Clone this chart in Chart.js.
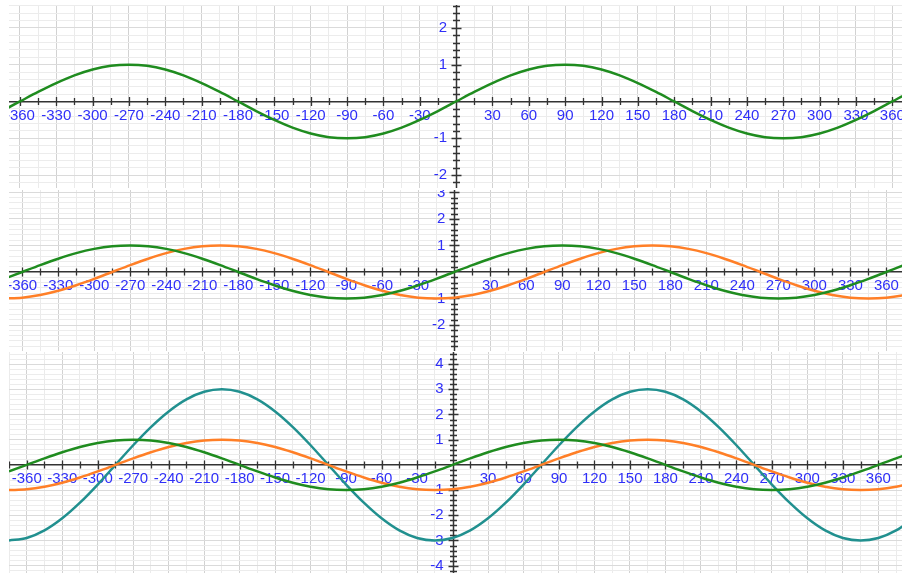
<!DOCTYPE html>
<html>
<head>
<meta charset="utf-8">
<script src="https://cdn.jsdelivr.net/npm/chart.js@4.4.0/dist/chart.umd.min.js"></script>
<style>
  html, body { margin: 0; padding: 0; background: #fff; }
  body { width: 902px; height: 573px; position: relative; overflow: hidden; }
  .panel { position: absolute; left: 9px; width: 893px; background: #fff; }
  .panel canvas { display: block; }
</style>
</head>
<body>
<div class="panel" style="top:5px;height:183px"><canvas id="panel1"></canvas></div>
<div class="panel" style="top:190px;height:161px"><canvas id="panel2"></canvas></div>
<div class="panel" style="top:352px;height:221px"><canvas id="panel3"></canvas></div>
<script>
// angles in degrees, sampled every 15
const angles = [
  -375, -360, -345, -330, -315, -300, -285, -270, -255, -240, -225, -210, -195,
  -180, -165, -150, -135, -120, -105, -90, -75, -60, -45, -30, -15,
  0, 15, 30, 45, 60, 75, 90, 105, 120, 135, 150, 165,
  180, 195, 210, 225, 240, 255, 270, 285, 300, 315, 330, 345, 360, 375, 390
];

// green curve
const greenValues = [
  -0.26, 0, 0.26, 0.5, 0.71, 0.87, 0.97, 1, 0.97, 0.87, 0.71, 0.5, 0.26,
  0, -0.26, -0.5, -0.71, -0.87, -0.97, -1, -0.97, -0.87, -0.71, -0.5, -0.26,
  0, 0.26, 0.5, 0.71, 0.87, 0.97, 1, 0.97, 0.87, 0.71, 0.5, 0.26,
  0, -0.26, -0.5, -0.71, -0.87, -0.97, -1, -0.97, -0.87, -0.71, -0.5, -0.26, 0, 0.26, 0.5
];

// orange curve
const orangeValues = [
  -1, -0.97, -0.87, -0.71, -0.5, -0.26, 0, 0.26, 0.5, 0.71, 0.87, 0.97, 1,
  0.97, 0.87, 0.71, 0.5, 0.26, 0, -0.26, -0.5, -0.71, -0.87, -0.97, -1,
  -0.97, -0.87, -0.71, -0.5, -0.26, 0, 0.26, 0.5, 0.71, 0.87, 0.97, 1,
  0.97, 0.87, 0.71, 0.5, 0.26, 0, -0.26, -0.5, -0.71, -0.87, -0.97, -1, -0.97, -0.87, -0.71
];

// teal curve
const tealValues = [
  -3, -2.9, -2.6, -2.12, -1.5, -0.78, 0, 0.78, 1.5, 2.12, 2.6, 2.9, 3,
  2.9, 2.6, 2.12, 1.5, 0.78, 0, -0.78, -1.5, -2.12, -2.6, -2.9, -3,
  -2.9, -2.6, -2.12, -1.5, -0.78, 0, 0.78, 1.5, 2.12, 2.6, 2.9, 3,
  2.9, 2.6, 2.12, 1.5, 0.78, 0, -0.78, -1.5, -2.12, -2.6, -2.9, -3, -2.9, -2.6, -2.12
];

const xTickStep = 15;
const xLabelStep = 30;
const yTickStep = 0.2;

const GREEN = '#1f8c1f';
const ORANGE = '#ff7f27';
const TEAL = '#21908f';
const LABEL_BLUE = '#2f2ff8';
const AXIS_COLOR = '#333333';
const FONT = { family: 'Liberation Sans, Arial, sans-serif', size: 15 };
const PANEL_WIDTH = 893;
const Y_LABEL_GAP = 9; // px between y labels and the axis line

const isInt = v => Math.abs(v - Math.round(v)) < 1e-6;

// axis lines with tick marks that cross both sides
const axisTicks = {
  id: 'axisTicks',
  beforeDatasetsDraw(chart) {
    const { ctx, chartArea, scales: { x, y } } = chart;
    const x0 = Math.round(x.getPixelForValue(0)) + 0.5;
    const y0 = y.getPixelForValue(0);
    ctx.save();
    ctx.strokeStyle = AXIS_COLOR;
    ctx.lineWidth = 1.5;
    ctx.beginPath();
    ctx.moveTo(x0, chartArea.top);
    ctx.lineTo(x0, chartArea.bottom);
    ctx.stroke();
    ctx.lineWidth = 1.3;
    ctx.beginPath();
    x.ticks.forEach(t => {
      if (t.value === 0) return;
      const px = Math.round(x.getPixelForValue(t.value)) + 0.5;
      const len = t.value % xLabelStep === 0 ? 4.5 : 3.5;
      ctx.moveTo(px, y0 - len);
      ctx.lineTo(px, y0 + len);
    });
    y.ticks.forEach(t => {
      if (Math.abs(t.value) < 1e-6) return;
      const py = Math.round(y.getPixelForValue(t.value)) + 0.5;
      const len = isInt(t.value) ? 5 : 3.5;
      ctx.moveTo(x0 - len, py);
      ctx.lineTo(x0 + len, py);
    });
    ctx.stroke();
    ctx.restore();
  }
};

function noPadding(scale) {
  scale.paddingLeft = 0;
  scale.paddingRight = 0;
  scale.paddingTop = 0;
  scale.paddingBottom = 0;
}

function series(values, color) {
  return {
    data: angles.map((a, i) => ({ x: a, y: values[i] })),
    borderColor: color,
    borderWidth: 2.5,
    pointRadius: 0,
    cubicInterpolationMode: 'monotone',
    fill: false
  };
}

function makePanel(canvasId, xMin, xMax, yMin, yMax, datasets) {
  // the y scale sits a few px left of x=0 so its labels clear the axis line
  const labelShift = Y_LABEL_GAP * (xMax - xMin) / PANEL_WIDTH;
  return new Chart(document.getElementById(canvasId), {
    type: 'line',
    data: { datasets },
    options: {
      responsive: true,
      maintainAspectRatio: false,
      animation: false,
      events: [],
      layout: { padding: 0 },
      plugins: { legend: { display: false }, tooltip: { enabled: false } },
      scales: {
        x: {
          type: 'linear',
          position: { y: 0 },
          min: xMin,
          max: xMax,
          afterFit: noPadding,
          border: { color: AXIS_COLOR, width: 1.5 },
          grid: {
            drawTicks: false,
            lineWidth: 1,
            color: c => {
              const v = c.tick ? c.tick.value : 1;
              if (v === 0) return 'rgba(0,0,0,0)';
              return v % xLabelStep === 0 ? '#d2d2d2' : '#ebebeb';
            }
          },
          ticks: {
            stepSize: xTickStep,
            includeBounds: false,
            autoSkip: false,
            maxRotation: 0,
            padding: 5,
            color: LABEL_BLUE,
            font: FONT,
            callback: v => (v % xLabelStep === 0 && v !== 0) ? String(v) : ''
          }
        },
        y: {
          type: 'linear',
          position: { x: -labelShift },
          min: yMin,
          max: yMax,
          afterFit: noPadding,
          border: { display: false },
          grid: {
            drawTicks: false,
            lineWidth: 1,
            color: c => {
              const v = c.tick ? c.tick.value : 1;
              if (Math.abs(v) < 1e-6) return 'rgba(0,0,0,0)';
              return isInt(v) ? '#dadada' : '#ececec';
            }
          },
          ticks: {
            stepSize: yTickStep,
            includeBounds: false,
            autoSkip: false,
            color: LABEL_BLUE,
            font: FONT,
            callback: v => (isInt(v) && Math.round(v) !== 0) ? String(Math.round(v)) : ''
          }
        }
      }
    },
    plugins: [axisTicks]
  });
}

makePanel('panel1', -369, 368, -2.35, 2.62, [series(greenValues, GREEN)]);
makePanel('panel2', -371, 373, -2.98, 3.09, [series(greenValues, GREEN), series(orangeValues, ORANGE)]);
makePanel('panel3', -375, 380, -4.29, 4.48, [series(greenValues, GREEN), series(orangeValues, ORANGE), series(tealValues, TEAL)]);
</script>
</body>
</html>
